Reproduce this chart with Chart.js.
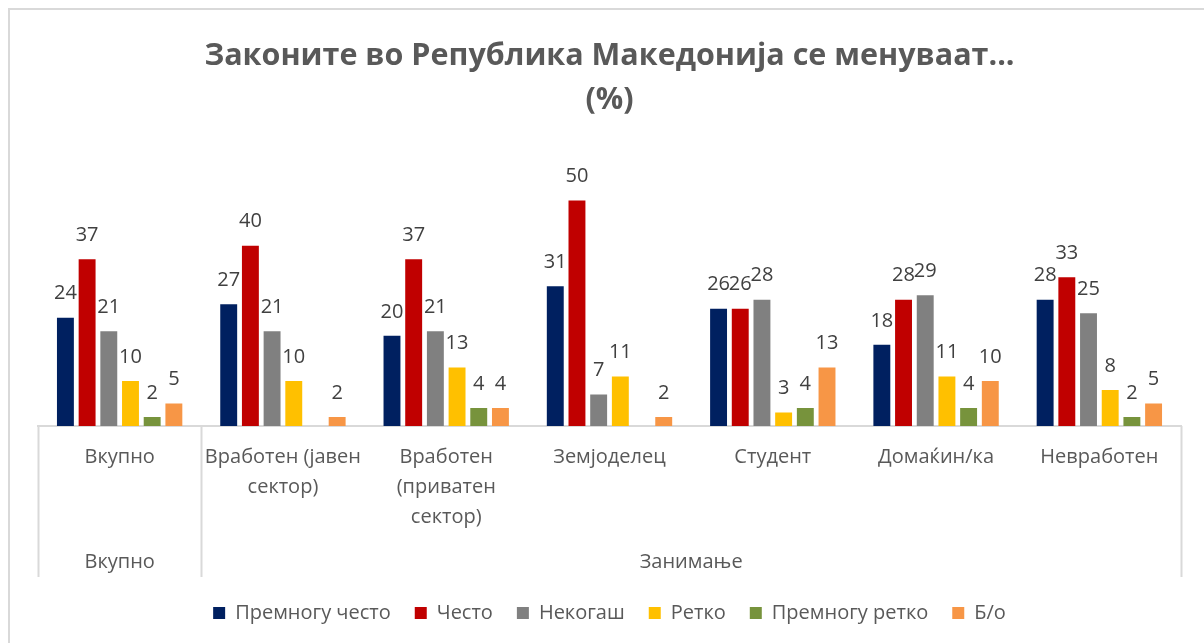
<!DOCTYPE html>
<html>
<head>
<meta charset="utf-8">
<script src="https://cdn.jsdelivr.net/npm/chart.js@4.4.1/dist/chart.umd.min.js"></script>
<style>
html,body{margin:0;padding:0;background:#fff;overflow:hidden;}
#wrap{position:relative;width:1204px;height:643px;}
</style>
</head>
<body>
<div id="wrap"><canvas id="c"></canvas></div>
<script>
const categories = [
  ["Вкупно"],
  ["Вработен (јавен", "сектор)"],
  ["Вработен", "(приватен", "сектор)"],
  ["Земјоделец"],
  ["Студент"],
  ["Домаќин/ка"],
  ["Невработен"]
];
const groupLabels = ["Вкупно", "Занимање"];
const groupSpans = [1, 6];
const seriesNames = ["Премногу често", "Често", "Некогаш", "Ретко", "Премногу ретко", "Б/о"];
const premnoguChesto = [24, 27, 20, 31, 26, 18, 28];
const chesto         = [37, 40, 37, 50, 26, 28, 33];
const nekogash       = [21, 21, 21, 7, 28, 29, 25];
const retko          = [10, 10, 13, 11, 3, 11, 8];
const premnoguRetko  = [2, null, 4, null, 4, 4, 2];
const bo             = [5, 2, 4, 2, 13, 10, 5];
const seriesColors = ["#002060", "#C00000", "#808080", "#FFC000", "#77933C", "#F79646"];
const titleLines = ["Законите во Република Македонија се менуваат...", "(%)"];

const seriesData = [premnoguChesto, chesto, nekogash, retko, premnoguRetko, bo];

const FONT = "'Open Sans', 'Noto Sans', sans-serif";
const LINE = "#d9d9d9";

const decorPlugin = {
  id: 'decor',
  beforeDraw(chart) {
    const ctx = chart.ctx;
    ctx.save();
    ctx.strokeStyle = LINE;
    ctx.lineWidth = 2;
    ctx.strokeRect(9, 9, 1400, 800);
    ctx.restore();
  },
  afterDraw(chart) {
    const ctx = chart.ctx;
    const area = chart.chartArea;
    const n = categories.length;
    const step = (area.right - area.left) / n;
    const bottom = area.bottom + 151;
    ctx.save();
    ctx.strokeStyle = LINE;
    ctx.lineWidth = 2;
    let idx = 0;
    const bounds = [area.left];
    groupSpans.forEach(s => { idx += s; bounds.push(area.left + idx * step); });
    bounds.forEach(bx => {
      ctx.beginPath();
      ctx.moveTo(Math.round(bx) + 0.5, area.bottom);
      ctx.lineTo(Math.round(bx) + 0.5, bottom);
      ctx.stroke();
    });
    ctx.fillStyle = "#595959";
    ctx.font = "20px " + FONT;
    ctx.textAlign = "center";
    ctx.textBaseline = "middle";
    groupLabels.forEach((g, i) => {
      const cx = (bounds[i] + bounds[i + 1]) / 2;
      ctx.fillText(g, cx, area.bottom + 136);
    });
    ctx.restore();
  },
  afterDatasetsDraw(chart) {
    const ctx = chart.ctx;
    ctx.save();
    ctx.fillStyle = "#404040";
    ctx.font = "20px " + FONT;
    ctx.textAlign = "center";
    ctx.textBaseline = "middle";
    chart.data.datasets.forEach((ds, di) => {
      const meta = chart.getDatasetMeta(di);
      meta.data.forEach((bar, i) => {
        const v = ds.data[i];
        if (v === null || v === undefined) return;
        ctx.fillText(String(v), bar.x, bar.y - 24);
      });
    });
    ctx.restore();
  }
};

new Chart(document.getElementById('c'), {
  type: 'bar',
  data: {
    labels: categories,
    datasets: seriesNames.map((name, i) => ({
      label: name,
      data: seriesData[i],
      backgroundColor: seriesColors[i],
      borderWidth: 0,
      categoryPercentage: 0.797,
      barPercentage: 0.78
    }))
  },
  options: {
    responsive: true,
    maintainAspectRatio: false,
    animation: false,
    layout: { padding: { left: 38, right: 23, top: 34, bottom: 10 } },
    plugins: {
      title: {
        display: true,
        text: titleLines,
        color: "#595959",
        font: { family: FONT, size: 30.5, weight: 'bold', lineHeight: 1.45 },
        padding: { top: 0, bottom: 33 }
      },
      legend: {
        position: 'bottom',
        labels: {
          color: "#595959",
          font: { family: FONT, size: 20 },
          boxWidth: 12,
          boxHeight: 12,
          padding: 24
        }
      },
      tooltip: { enabled: false }
    },
    scales: {
      x: {
        grid: { display: false, drawTicks: false },
        border: { display: true, color: LINE, width: 2 },
        ticks: {
          color: "#595959",
          font: { family: FONT, size: 20, lineHeight: 1.5 },
          padding: 16,
          maxRotation: 0,
          autoSkip: false
        },
        afterFit(scale) { scale.height = 153; }
      },
      y: {
        display: false,
        min: 0,
        max: 60
      }
    }
  },
  plugins: [decorPlugin]
});
</script>
</body>
</html>
